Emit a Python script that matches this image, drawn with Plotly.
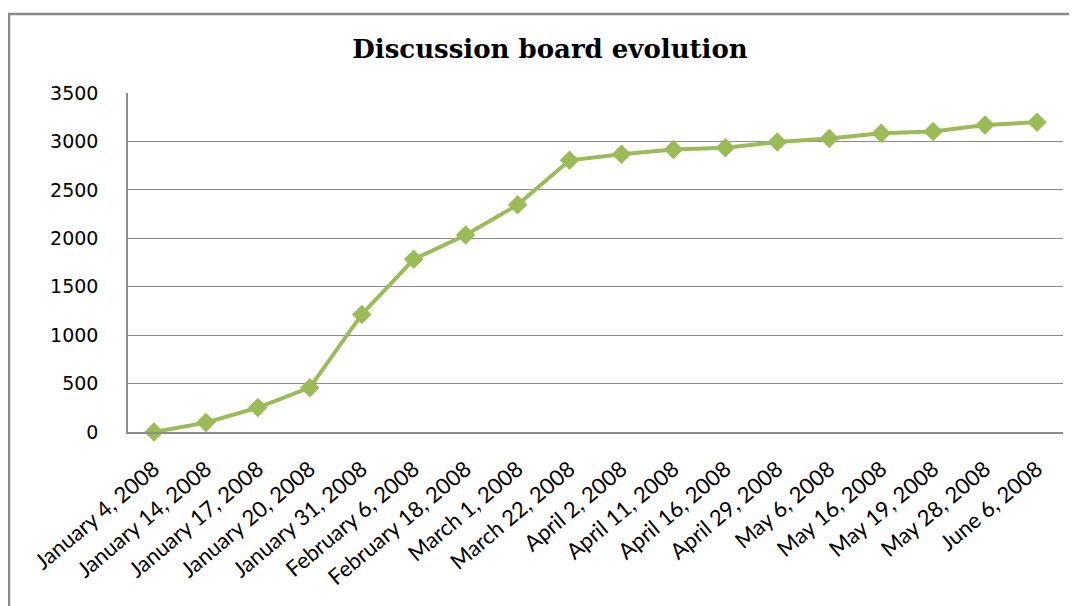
import plotly.graph_objects as go

dates = ["January 4, 2008", "January 14, 2008", "January 17, 2008", "January 20, 2008",
         "January 31, 2008", "February 6, 2008", "February 18, 2008", "March 1, 2008",
         "March 22, 2008", "April 2, 2008", "April 11, 2008", "April 16, 2008",
         "April 29, 2008", "May 6, 2008", "May 16, 2008", "May 19, 2008",
         "May 28, 2008", "June 6, 2008"]
posts = [0, 97, 252, 458, 1214, 1783, 2033, 2345, 2805, 2868, 2917, 2936,
         2993, 3030, 3085, 3103, 3170, 3198]
y_ticks = [0, 500, 1000, 1500, 2000, 2500, 3000, 3500]

# page has an 8px body margin; figure sized to fill the rest of the window
OFF = 8
W, H = 1077 - OFF, 606 - OFF
ml, mt = 128 - OFF, 93 - OFF
mr = W - (1063 - OFF)
mb = H - (432 - OFF)
pw, ph = W - ml - mr, H - mt - mb

fig = go.Figure()
fig.add_trace(go.Scatter(
    x=dates, y=posts, mode="lines+markers",
    line=dict(color="#9BBB59", width=4),
    marker=dict(symbol="diamond", size=15, color="#9BBB59"),
    showlegend=False, cliponaxis=False,
))

fig.update_layout(
    width=W, height=H,
    margin=dict(l=ml, r=mr, t=mt, b=mb),
    paper_bgcolor="white", plot_bgcolor="white",
    title=dict(text="<b>Discussion board evolution</b>", x=(550 - OFF) / W, xanchor="center",
               y=1 - (49 - OFF) / H, yanchor="middle",
               font=dict(family="DejaVu Serif", size=26, color="black")),
    xaxis=dict(type="category", categoryorder="array", categoryarray=dates,
               range=[-0.5, len(dates) - 0.5], showgrid=False,
               showline=True, linecolor="#8c8c8c", linewidth=1.5,
               tickangle=-40, ticks="", ticklabelstandoff=14,
               tickfont=dict(family="Lato", size=22, color="black")),
    yaxis=dict(range=[0, 3500], tickvals=y_ticks, showgrid=True,
               gridcolor="#8c8c8c", gridwidth=1,
               showline=True, linecolor="#8c8c8c", linewidth=1.5,
               zeroline=False, ticks="", ticklabelstandoff=24,
               tickfont=dict(family="DejaVu Sans", size=19, color="black")),
    shapes=[dict(type="rect", xref="paper", yref="paper",
                 x0=(9 - OFF - ml) / pw, x1=(W + 50 - ml) / pw,
                 y0=-(H + 50 - (H - mb)) / ph, y1=((H - mb) - (14 - OFF)) / ph,
                 line=dict(color="#8a8a8a", width=2.5), layer="below")],
)

fig.write_html("out.html")
